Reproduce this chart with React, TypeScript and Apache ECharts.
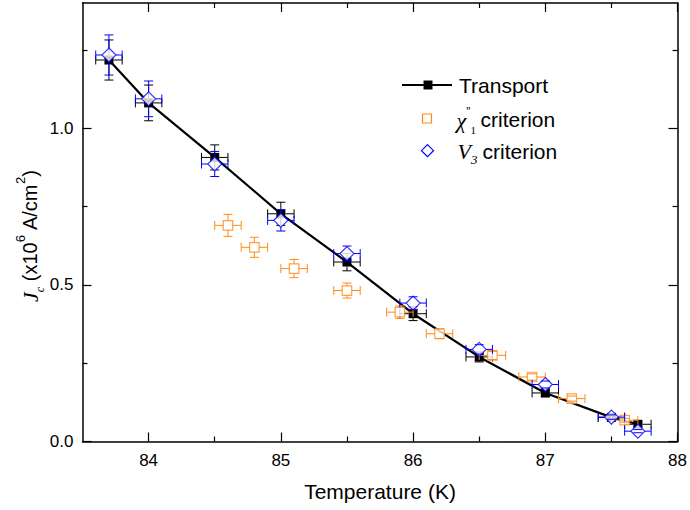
import React, { useEffect, useRef } from 'react';
import * as echarts from 'echarts';

// ---- Data ----
const transportT = [83.7, 84.0, 84.5, 85.0, 85.5, 86.0, 86.5, 87.0, 87.5, 87.7];
const transportJ = [1.218, 1.081, 0.907, 0.727, 0.573, 0.408, 0.27, 0.155, 0.077, 0.055];
const transportTErr = [0.1, 0.1, 0.1, 0.1, 0.1, 0.1, 0.1, 0.1, 0.1, 0.1];
const transportJErr = [0.064, 0.057, 0.04, 0.037, 0.028, 0.022, 0.016, 0.012, 0.008, 0.008];

const chiT = [84.6, 84.8, 85.1, 85.5, 85.9, 86.2, 86.6, 86.9, 87.2, 87.6];
const chiJ = [0.69, 0.62, 0.552, 0.482, 0.413, 0.344, 0.275, 0.206, 0.137, 0.068];
const chiTErr = [0.1, 0.1, 0.1, 0.1, 0.1, 0.1, 0.1, 0.1, 0.1, 0.1];
const chiJErr = [0.035, 0.032, 0.029, 0.024, 0.02, 0.016, 0.013, 0.01, 0.008, 0.006];

const v3T = [83.7, 84.0, 84.5, 85.0, 85.5, 86.0, 86.5, 87.0, 87.5, 87.7];
const v3J = [1.234, 1.094, 0.886, 0.706, 0.6, 0.442, 0.294, 0.182, 0.078, 0.033];
const v3TErr = [0.1, 0.1, 0.1, 0.1, 0.1, 0.1, 0.1, 0.1, 0.1, 0.1];
const v3JErr = [0.064, 0.057, 0.04, 0.034, 0.024, 0.02, 0.015, 0.011, 0.007, 0.005];

const xMajorTicks = [84, 85, 86, 87, 88];
const xMinorTicks = [84.5, 85.5, 86.5, 87.5];
const yMajorTicks = [0, 0.5, 1.0];
const yMinorTicks = [0.25, 0.75, 1.25];

const BLACK = '#000000';
const ORANGE = '#FF8A14';
const BLUE = '#0000FF';
const SANS = 'Liberation Sans';
const SERIF = 'Liberation Serif';

function errorSeries(T: number[], J: number[], TErr: number[], JErr: number[], color: string, gap: number, z: number) {
  return {
    type: 'custom',
    xAxisIndex: 0,
    yAxisIndex: 0,
    silent: true,
    z,
    encode: { x: 0, y: 1 },
    data: T.map((t, i) => [t, J[i], TErr[i], JErr[i]]),
    renderItem: (params: any, api: any) => {
      const x = api.value(0);
      const y = api.value(1);
      const ex = api.value(2);
      const ey = api.value(3);
      const c = api.coord([x, y]);
      const xl = api.coord([x - ex, y])[0];
      const xr = api.coord([x + ex, y])[0];
      const yt = api.coord([x, y + ey])[1];
      const yb = api.coord([x, y - ey])[1];
      const cap = 4.5;
      const st = { stroke: color, lineWidth: 1, fill: 'none' };
      const ch: any[] = [];
      const seg = (x1: number, y1: number, x2: number, y2: number) =>
        ch.push({ type: 'line', shape: { x1, y1, x2, y2 }, style: st });
      if (c[0] - xl > gap) {
        seg(xl, c[1], c[0] - gap, c[1]);
        seg(c[0] + gap, c[1], xr, c[1]);
      }
      seg(xl, c[1] - cap, xl, c[1] + cap);
      seg(xr, c[1] - cap, xr, c[1] + cap);
      if (c[1] - yt > gap) {
        seg(c[0], yt, c[0], c[1] - gap);
        seg(c[0], c[1] + gap, c[0], yb);
      }
      seg(c[0] - cap, yt, c[0] + cap, yt);
      seg(c[0] - cap, yb, c[0] + cap, yb);
      return { type: 'group', children: ch };
    },
  };
}

function xAxisDef(position: 'top' | 'bottom', ticks: number[], len: number, main: boolean, labels: boolean) {
  return {
    type: 'value',
    position,
    min: 83.5,
    max: 88,
    name: labels ? 'Temperature (K)' : '',
    nameLocation: 'middle',
    nameGap: 39,
    nameTextStyle: { fontFamily: SANS, fontSize: 21, color: BLACK },
    axisLine: { show: main, onZero: false, lineStyle: { color: BLACK, width: 1.5 } },
    axisTick: { show: true, inside: true, length: len, customValues: ticks, lineStyle: { color: BLACK, width: 1.2 } },
    axisLabel: labels
      ? { show: true, customValues: ticks, margin: 10, fontFamily: SANS, fontSize: 17, color: BLACK, formatter: (v: number) => String(v) }
      : { show: false },
    splitLine: { show: false },
  };
}

function yAxisDef(position: 'left' | 'right', ticks: number[], len: number, main: boolean, labels: boolean) {
  return {
    type: 'value',
    position,
    min: 0,
    max: 1.4,
    axisLine: { show: main, onZero: false, lineStyle: { color: BLACK, width: 1.5 } },
    axisTick: { show: true, inside: true, length: len, customValues: ticks, lineStyle: { color: BLACK, width: 1.2 } },
    axisLabel: labels
      ? { show: true, customValues: ticks, margin: 9, fontFamily: SANS, fontSize: 17, color: BLACK, formatter: (v: number) => v.toFixed(1) }
      : { show: false },
    splitLine: { show: false },
  };
}

export default function App() {
  const ref = useRef<HTMLDivElement>(null);
  useEffect(() => {
    if (!ref.current) return;
    const chart = echarts.init(ref.current, null, { renderer: 'svg' });
    const option: any = {
      animation: false,
      backgroundColor: '#ffffff',
      grid: { left: 82.5, right: 8.5, top: 3, bottom: 68.5, containLabel: false },
      xAxis: [
        xAxisDef('bottom', xMajorTicks, 9, true, true),
        xAxisDef('bottom', xMinorTicks, 5, false, false),
        xAxisDef('top', xMajorTicks, 9, true, false),
        xAxisDef('top', xMinorTicks, 5, false, false),
      ],
      yAxis: [
        yAxisDef('left', yMajorTicks, 9, true, true),
        yAxisDef('left', yMinorTicks, 5, false, false),
        yAxisDef('right', yMajorTicks, 9, true, false),
        yAxisDef('right', yMinorTicks, 5, false, false),
      ],
      series: [
        {
          name: 'Transport',
          type: 'line',
          xAxisIndex: 0,
          yAxisIndex: 0,
          z: 2,
          data: transportT.map((t, i) => [t, transportJ[i]]),
          symbol: 'rect',
          symbolSize: 9,
          itemStyle: { color: BLACK },
          lineStyle: { color: BLACK, width: 2.2 },
          silent: true,
        },
        errorSeries(transportT, transportJ, transportTErr, transportJErr, BLACK, 4.5, 3),
        {
          name: 'chi',
          type: 'scatter',
          xAxisIndex: 0,
          yAxisIndex: 0,
          z: 4,
          data: chiT.map((t, i) => [t, chiJ[i]]),
          symbol: 'rect',
          symbolSize: 9.5,
          itemStyle: { color: '#ffffff', borderColor: ORANGE, borderWidth: 1.2 },
          silent: true,
        },
        errorSeries(chiT, chiJ, chiTErr, chiJErr, ORANGE, 4.75, 5),
        {
          name: 'V3',
          type: 'scatter',
          xAxisIndex: 0,
          yAxisIndex: 0,
          z: 6,
          data: v3T.map((t, i) => [t, v3J[i]]),
          symbol: 'diamond',
          symbolSize: 14,
          itemStyle: { color: '#ffffff', borderColor: BLUE, borderWidth: 1.2 },
          silent: true,
        },
        errorSeries(v3T, v3J, v3TErr, v3JErr, BLUE, 7, 7),
      ],
      graphic: [
        // y axis title
        {
          type: 'text',
          x: 30,
          y: 236,
          rotation: Math.PI / 2,
          silent: true,
          style: {
            text: '{j|J}{sub|c}{n| (x10}{sup|6}{n| A/cm}{sup|2}{n|)}',
            align: 'center',
            verticalAlign: 'middle',
            fill: BLACK,
            rich: {
              j: { fontFamily: SERIF, fontStyle: 'italic', fontSize: 22, lineHeight: 32, verticalAlign: 'middle', fill: BLACK },
              sub: { fontFamily: SERIF, fontStyle: 'italic', fontSize: 12, lineHeight: 14, verticalAlign: 'bottom', fill: BLACK },
              n: { fontFamily: SANS, fontSize: 20, lineHeight: 32, verticalAlign: 'middle', fill: BLACK },
              sup: { fontFamily: SANS, fontSize: 13, lineHeight: 13, verticalAlign: 'top', fill: BLACK },
            },
          },
        },
        // legend: Transport
        { type: 'line', silent: true, shape: { x1: 402, y1: 85, x2: 452, y2: 85 }, style: { stroke: BLACK, lineWidth: 2 } },
        { type: 'rect', silent: true, shape: { x: 423.5, y: 80.5, width: 9, height: 9 }, style: { fill: BLACK } },
        { type: 'text', silent: true, x: 459, y: 85, style: { text: 'Transport', fontFamily: SANS, fontSize: 21, fill: BLACK, align: 'left', verticalAlign: 'middle' } },
        // legend: chi
        { type: 'rect', silent: true, shape: { x: 422.5, y: 114, width: 9, height: 9 }, style: { fill: '#ffffff', stroke: ORANGE, lineWidth: 1.2 } },
        {
          type: 'text',
          silent: true,
          x: 456.5,
          y: 120,
          style: {
            text: "{c|χ}{p|''}{s|1}",
            align: 'left',
            verticalAlign: 'middle',
            fill: BLACK,
            rich: {
              c: { fontFamily: SERIF, fontStyle: 'italic', fontSize: 22, lineHeight: 30, verticalAlign: 'middle', fill: BLACK },
              p: { fontFamily: SERIF, fontSize: 12, lineHeight: 16, verticalAlign: 'top', fill: BLACK },
              s: { fontFamily: SERIF, fontSize: 11, lineHeight: 8, verticalAlign: 'bottom', fill: BLACK },
            },
          },
        },
        { type: 'text', silent: true, x: 480.5, y: 119, style: { text: 'criterion', fontFamily: SANS, fontSize: 21, fill: BLACK, align: 'left', verticalAlign: 'middle' } },
        // legend: V3
        { type: 'polygon', silent: true, shape: { points: [[427.5, 144.7], [433.5, 150.7], [427.5, 156.7], [421.5, 150.7]] }, style: { fill: '#ffffff', stroke: BLUE, lineWidth: 1.2 } },
        {
          type: 'text',
          silent: true,
          x: 457.5,
          y: 151,
          style: {
            text: '{v|V}{s|3}',
            align: 'left',
            verticalAlign: 'middle',
            fill: BLACK,
            rich: {
              v: { fontFamily: SERIF, fontStyle: 'italic', fontSize: 22, lineHeight: 30, verticalAlign: 'middle', fill: BLACK },
              s: { fontFamily: SERIF, fontStyle: 'italic', fontSize: 13, lineHeight: 10, verticalAlign: 'bottom', fill: BLACK },
            },
          },
        },
        { type: 'text', silent: true, x: 482.5, y: 151, style: { text: 'criterion', fontFamily: SANS, fontSize: 21, fill: BLACK, align: 'left', verticalAlign: 'middle' } },
      ],
    };
    chart.setOption(option);
    return () => chart.dispose();
  }, []);
  return (
    <div
      ref={ref}
      style={{ position: 'fixed', left: 0, top: 0, width: 690, height: 510, background: '#fff' }}
    />
  );
}
